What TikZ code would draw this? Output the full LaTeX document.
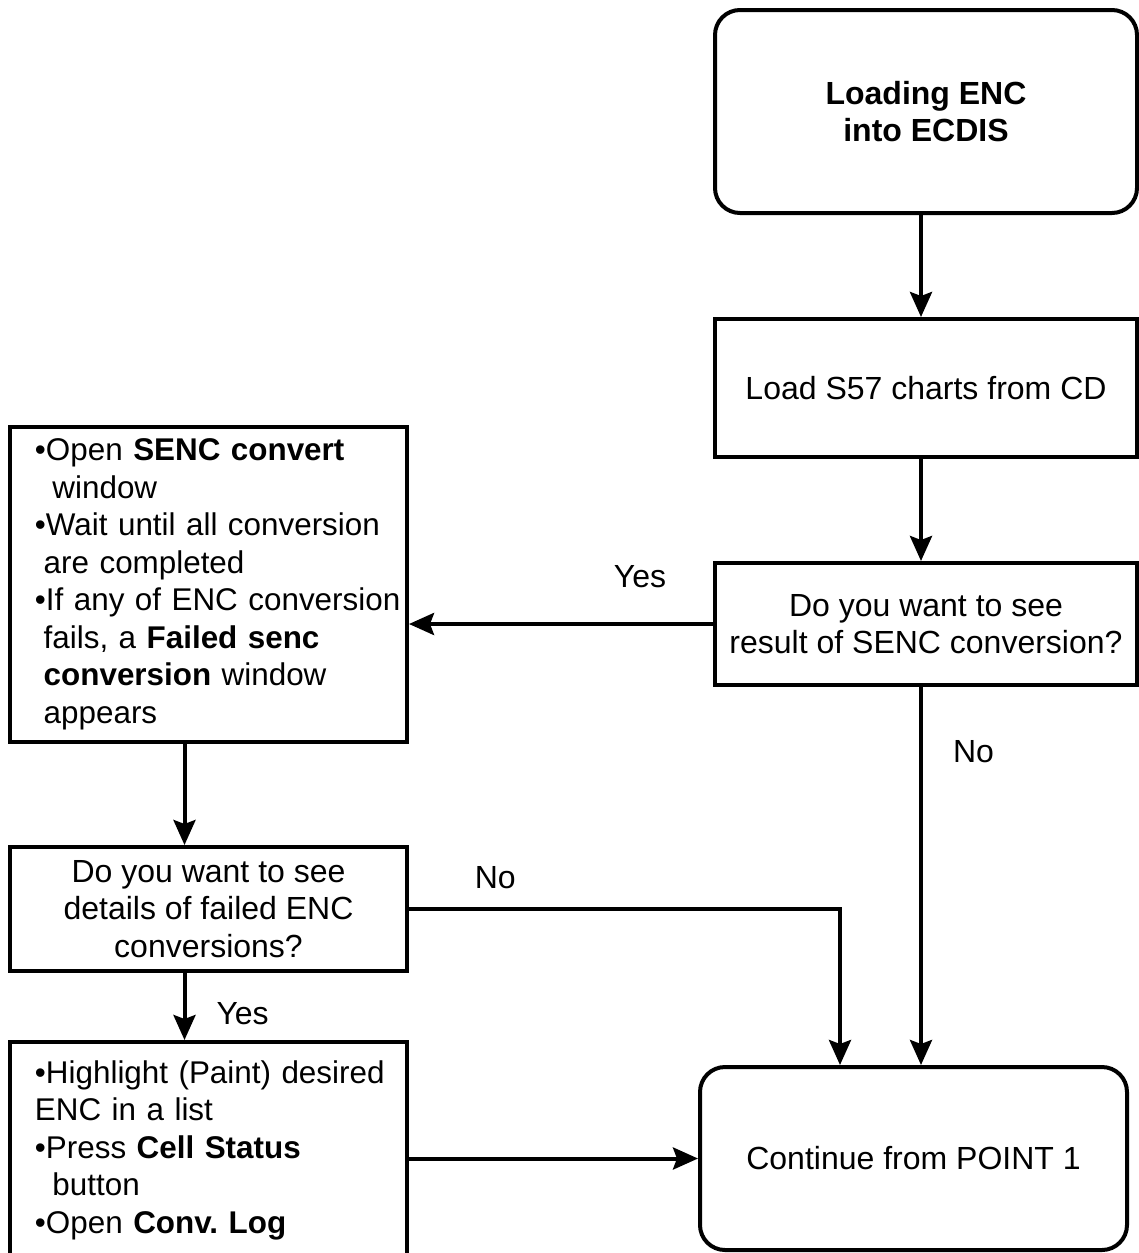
\documentclass[tikz,border=0pt]{standalone}
\usepackage{fontspec}
\setmainfont{Liberation Sans}
\usepackage{tikz}
\usetikzlibrary{arrows.meta, positioning, calc}

\newcommand{\indsp}{\hspace*{0.278em}}
\newcommand{\listsetup}{\raggedright\leftskip=12.5pt\rightskip=0pt plus 1fil minus 20pt\parindent=0pt\hyphenpenalty=10000\frenchspacing}

\begin{document}
\begin{tikzpicture}[
        x=0.5pt, y=-0.5pt,
        node distance=51pt,
        block/.style={draw, rectangle, line width=2pt, minimum width=211pt, align=center, inner sep=2pt},
        term/.style={block, rounded corners=12.5pt},
        listbox/.style={draw, rectangle, line width=2pt, text width=198.5pt, inner xsep=0pt, inner ysep=2pt, font=\fontsize{15.7}{18.75}\selectfont},
        lbl/.style={inner sep=0pt},
        >={Stealth[length=12.5pt, width=11pt, inset=2pt]},
        font=\fontsize{16}{18.75}\selectfont,
    ]
        \useasboundingbox (0,0) rectangle (1139,1253);

        \node[term, minimum height=101.5pt, font=\fontsize{16}{18.75}\selectfont\bfseries] (start) at (926,111.5) {Loading ENC\\into ECDIS};
        \node[block, minimum height=69pt, below=of start] (load) {Load S57 charts from CD};
        \node[block, minimum height=61pt, below=of load]  (ask)  {Do you want to see\\result of SENC conversion?};

        \node[listbox, minimum height=157.5pt] (senc) at (208.5,584.5) {\listsetup
            •Open \textbf{SENC convert}\\
            \indsp\indsp window\\
            •Wait until all conversion\\
            \indsp are completed\\
            •If any of ENC conversion\\
            \indsp fails, a \textbf{Failed senc}\\
            \indsp\textbf{conversion} window\\
            \indsp appears\par};
        \node[block, minimum width=198.5pt, minimum height=62pt, below=50.5pt of senc] (askfail) {Do you want to see\\details of failed ENC\\conversions?};
        \node[listbox, minimum height=108pt, below=33.5pt of askfail] (cell) {\listsetup
            •Highlight (Paint) desired\\
            ENC in a list\\
            •Press \textbf{Cell Status}\\
            \indsp\indsp button\\
            •Open \textbf{Conv. Log}\par};

        \node[term, minimum width=213.5pt, minimum height=91.5pt] (cont) at (913.5,1158.5) {Continue from POINT 1};

        \draw[->, line width=2pt] ([xshift=-2.5pt]start.south) -- ([xshift=-2.5pt]load.north);
        \draw[->, line width=2pt] ([xshift=-2.5pt]load.south)  -- ([xshift=-2.5pt]ask.north);
        \draw[->, line width=2pt] (ask.west) -- (ask.west -| senc.east) node[pos=0.24, above=17pt, lbl] {Yes};
        \draw[->, line width=2pt] ([xshift=-2.5pt]ask.south) -- ([xshift=-2.5pt]ask.south |- cont.north) node[pos=0.17, right=15pt, lbl] {No};
        \draw[->, line width=2pt] ([xshift=-12pt]senc.south) -- ([xshift=-12pt]askfail.north);
        \draw[->, line width=2pt] ([xshift=-12pt]askfail.south) -- ([xshift=-12pt]cell.north) node[pos=0.6, right=15pt, lbl] {Yes};
        \draw[->, line width=2pt] (askfail.east) -| ([xshift=-36.75pt]cont.north) node[pos=0.1, above=9pt, lbl] {No};
        \draw[->, line width=2pt] (cont.west -| cell.east) -- (cont.west);
    \end{tikzpicture}
\end{document}
